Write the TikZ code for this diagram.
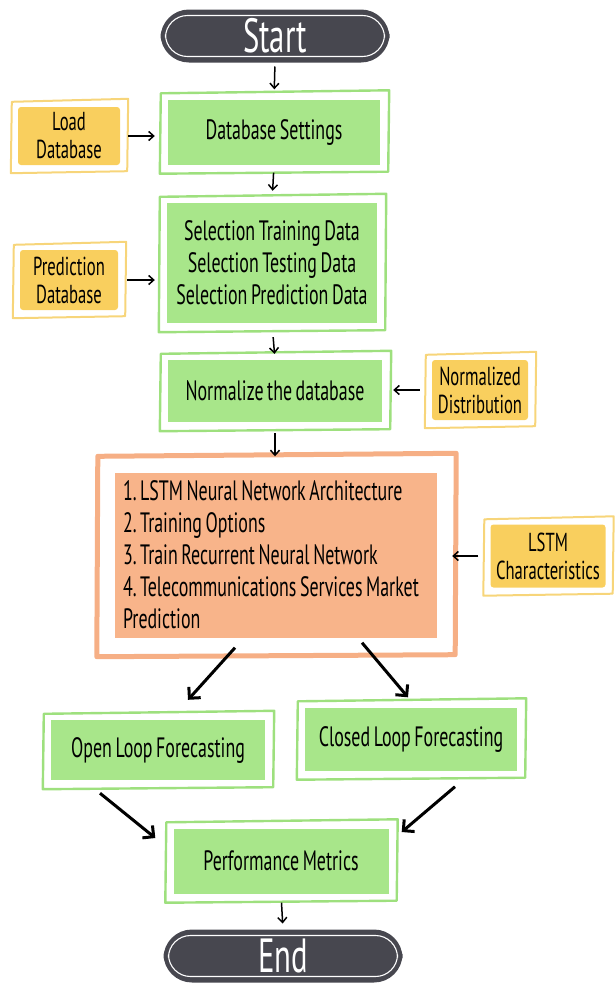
\documentclass[tikz,border=0pt]{standalone}
\usepackage{fontspec}
\setmainfont{PT Sans}[FakeStretch=0.64, WordSpace=0.75]
\usetikzlibrary{arrows.meta,calc}

\definecolor{leaf}{HTML}{A8E68A}
\definecolor{leafline}{HTML}{9EE07E}
\definecolor{sun}{HTML}{F9CF5E}
\definecolor{sunline}{HTML}{F7D57A}
\definecolor{peach}{HTML}{F8B48A}
\definecolor{peachline}{HTML}{F6AF85}
\definecolor{slate}{HTML}{47474F}

\tikzset{
  greenbox/.style={fill=leaf, inner sep=4pt, align=center, font=\fontsize{28}{32}\selectfont},
  yellowbox/.style={fill=sun, rounded corners=3pt, inner sep=1pt, align=center, font=\fontsize{26}{28}\selectfont},
  orangebox/.style={fill=peach, inner sep=6pt, align=flush left, font=\fontsize{28}{32}\selectfont},
  pill/.style={fill=slate, draw=slate, line width=3pt, rounded corners=27pt, text=white,
    font=\fontsize{48}{48}\selectfont},
  thin arrow/.style={draw=black, line width=1.5pt, -{Straight Barb[length=5pt,width=9pt]}},
  thick arrow/.style={draw=black, line width=3pt, -{Straight Barb[length=8pt,width=16pt]}},
}

% loose outer frame around a filled box
\newcommand\sketchframe[4]{% node, colour, gap, width
  \draw[#2, line width=#4, line join=round]
    ($(#1.north west)+(-#3,-#3+1)$) -- ($(#1.north east)+(#3+2,-#3-2)$)
    -- ($(#1.south east)+(#3+1,#3)$) -- ($(#1.south west)+(-#3-1,#3+2)$) -- cycle;}

% white inner outline of a terminal pill
\newcommand\pillline[1]{%
  \draw[white, line width=1.1pt, rounded corners=22pt]
    ($(#1.north west)+(5,6)$) rectangle ($(#1.south east)+(-5,-6)$);}

\begin{document}
\begin{tikzpicture}[x=1pt, y={(0pt,-1pt)}]
\useasboundingbox (0,0) rectangle (614,985);
\frenchspacing

% terminals
\node[pill, minimum width=226pt, minimum height=50pt] (start) at (275,36) {Start};
\pillline{start}
\node[pill, minimum width=236pt, minimum height=50pt] (end) at (283,956) {End};
\pillline{end}

% process steps
\node[greenbox, minimum width=212pt, minimum height=65pt] (db) at (274,132) {Database Settings};
\node[greenbox, minimum width=210pt, minimum height=120pt] (sel) at (272,263)
  {Selection Training Data\\Selection Testing Data\\Selection Prediction Data};
\node[greenbox, minimum width=214pt, minimum height=62pt] (norm) at (275,391) {Normalize the database};
\node[orangebox, minimum width=322pt, minimum height=165pt, text width=306pt] (lstm) at (276,555)
  {1. LSTM Neural Network Architecture\\2. Training Options\\3. Train Recurrent Neural Network\\4. Telecommunications Services Market\\Prediction};
\node[greenbox, minimum width=214pt, minimum height=60pt] (open) at (158,750) {Open Loop Forecasting};
\node[greenbox, minimum width=212pt, minimum height=63pt] (closed) at (411,739) {Closed Loop Forecasting};
\node[greenbox, minimum width=215pt, minimum height=65pt] (perf) at (281,861) {Performance Metrics};

% inputs
\node[yellowbox, minimum width=102pt, minimum height=58pt] (load) at (69,136) {Load\\Database};
\node[yellowbox, minimum width=98pt, minimum height=60pt] (pred) at (69,280) {Prediction\\Database};
\node[yellowbox, minimum width=96pt, minimum height=60pt] (nd) at (480,390) {Normalized\\Distribution};
\node[yellowbox, minimum width=115pt, minimum height=63pt] (lc) at (548,556) {LSTM\\Characteristics};

% frames
\foreach \n in {db,sel,norm,open,closed,perf}{\sketchframe{\n}{leafline}{7}{2.4pt}}
\foreach \n in {load,pred,nd,lc}{\sketchframe{\n}{sunline}{6}{2pt}}
\sketchframe{lstm}{peachline}{17}{5pt}

% connectors
\draw[thin arrow, shorten <=4pt, shorten >=10pt] (start.south) -- (db.north);
\draw[thin arrow, shorten <=8pt, shorten >=13pt] (load.east) -- (load.east -| db.west);
\draw[thin arrow, shorten <=8pt, shorten >=12pt] (db.south) -- (sel.north);
\draw[thin arrow, shorten <=9pt, shorten >=12pt] (pred.east) -- (pred.east -| sel.west);
\draw[thin arrow, shorten <=14pt, shorten >=6pt] (sel.south) -- (norm.north);
\draw[thin arrow, shorten <=12pt, shorten >=11pt] (nd.west) -- (nd.west -| norm.east);
\draw[thin arrow, shorten <=11pt, shorten >=16pt] (norm.south) -- (norm.south |- lstm.north);
\draw[thin arrow, shorten <=12pt, shorten >=15pt] (lc.west) -- (lc.west -| lstm.east);
\draw[thick arrow] ($(lstm.south)+(-41,10)$) -- ($(open.north)+(30,-20)$);
\draw[thick arrow] ($(lstm.south)+(86,5)$) -- ($(closed.north)+(-3,-10)$);
\draw[thick arrow] ($(open.south)+(-58,13)$) -- ($(perf.west)+(-18,-23)$);
\draw[thick arrow] ($(closed.south)+(44,16)$) -- ($(perf.east)+(13,-29)$);
\draw[thin arrow, shorten <=9pt, shorten >=6pt] (perf.south) -- (end.north);
\end{tikzpicture}
\end{document}
